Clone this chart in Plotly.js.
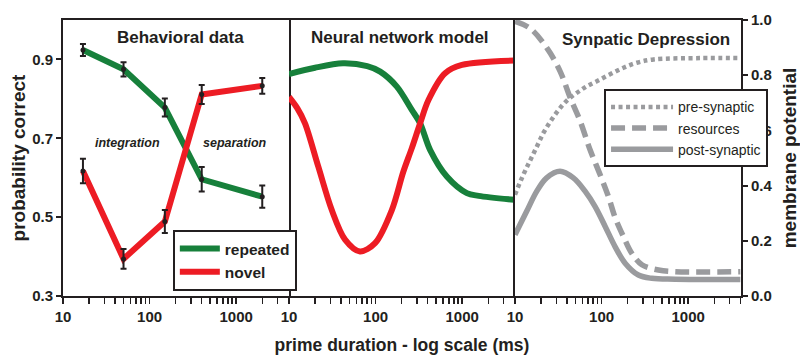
<!DOCTYPE html>
<html><head><meta charset="utf-8">
<script src="https://cdn.plot.ly/plotly-3.0.1.min.js"></script>
<style>html,body{margin:0;padding:0;background:#fff}#chart{width:800px;height:358px}</style>
</head><body><div id="chart"></div>
<script>
// ---------- Panel 1: behavioral data ----------
const behavX = [17, 50, 150, 400, 2000];
const behavRepeated = [0.924, 0.875, 0.778, 0.596, 0.552];
const behavRepeatedErr = [0.015, 0.018, 0.023, 0.031, 0.028];
const behavNovel = [0.617, 0.394, 0.489, 0.811, 0.833];
const behavNovelErr = [0.031, 0.025, 0.029, 0.024, 0.020];

// ---------- Panel 2: neural network model ----------
const nnRepX = [10, 20, 42, 80, 113, 176, 262, 327, 427, 665, 1132, 1549, 4000];
const nnRepY = [0.863, 0.879, 0.890, 0.883, 0.869, 0.831, 0.772, 0.738, 0.670, 0.603, 0.561, 0.554, 0.544];
const nnNovX = [10, 12.5, 15.3, 21.8, 31.2, 44.4, 66, 98.6, 154, 209, 262, 327, 408, 635, 993, 4000];
const nnNovY = [0.805, 0.776, 0.738, 0.628, 0.518, 0.443, 0.413, 0.434, 0.518, 0.615, 0.675, 0.738, 0.797, 0.865, 0.886, 0.897];

// ---------- Panel 3: synaptic depression ----------
const preX = [10, 12.5, 14.9, 17.8, 21.2, 25.4, 30.3, 36.2, 43.2, 54, 67.5, 88, 125, 179, 255, 398, 1377, 4000];
const preY = [0.367, 0.44, 0.49, 0.54, 0.59, 0.63, 0.665, 0.695, 0.718, 0.740, 0.760, 0.778, 0.803, 0.827, 0.845, 0.857, 0.862, 0.862];
const resX = [10, 14.9, 23.2, 33.1, 43.2, 56.4, 73.6, 96, 120, 143, 179, 223, 292, 454, 708, 4000];
const resY = [0.995, 0.970, 0.900, 0.815, 0.720, 0.635, 0.530, 0.440, 0.360, 0.285, 0.215, 0.155, 0.113, 0.094, 0.088, 0.088];
const postX = [10, 13.6, 17.8, 23.2, 33.1, 47.2, 64.4, 84.2, 110, 143, 187, 266, 380, 708, 4000];
const postY = [0.222, 0.306, 0.379, 0.428, 0.452, 0.428, 0.380, 0.324, 0.252, 0.179, 0.119, 0.076, 0.064, 0.061, 0.060];

// ---------- tick labels ----------
const xTickVals = [10, 20, 30, 40, 50, 60, 70, 80, 90, 100, 200, 300, 400, 500, 600, 700, 800, 900, 1000, 2000, 3000, 4000];
const xTickText = ['10', '', '', '', '', '', '', '', '', '100', '', '', '', '', '', '', '', '', '1000', '', '', ''];
const leftTickVals = [0.3, 0.5, 0.7, 0.9];
const rightTickVals = [0, 0.2, 0.4, 0.6, 0.8, 1.0];

const FONT = 'Liberation Sans, Arial, Helvetica, sans-serif';
const INK = '#231f20';
const GREEN = '#17803b';
const RED = '#ed1c24';
const GRAY = '#9a9b9e';

const traces = [
  {x: behavX, y: behavRepeated, xaxis: 'x', yaxis: 'y', mode: 'lines', name: 'repeated',
   line: {color: GREEN, width: 6}, legend: 'legend'},
  {x: behavX, y: behavNovel, xaxis: 'x', yaxis: 'y', mode: 'lines', name: 'novel',
   line: {color: RED, width: 6}, legend: 'legend'},
  {x: behavX, y: behavRepeated, xaxis: 'x', yaxis: 'y', mode: 'markers', showlegend: false,
   marker: {color: INK, size: 5},
   error_y: {type: 'data', array: behavRepeatedErr, visible: true, color: INK, thickness: 2, width: 3}},
  {x: behavX, y: behavNovel, xaxis: 'x', yaxis: 'y', mode: 'markers', showlegend: false,
   marker: {color: INK, size: 5},
   error_y: {type: 'data', array: behavNovelErr, visible: true, color: INK, thickness: 2, width: 3}},
  {x: nnRepX, y: nnRepY, xaxis: 'x2', yaxis: 'y', mode: 'lines', showlegend: false,
   line: {color: GREEN, width: 6, shape: 'spline', smoothing: 0.9}},
  {x: nnNovX, y: nnNovY, xaxis: 'x2', yaxis: 'y', mode: 'lines', showlegend: false,
   line: {color: RED, width: 6, shape: 'spline', smoothing: 0.9}},
  {x: preX, y: preY, xaxis: 'x3', yaxis: 'y3', mode: 'lines', name: 'pre-synaptic', legend: 'legend2',
   line: {color: GRAY, width: 4.5, dash: '4px,3.5px', shape: 'spline', smoothing: 1}},
  {x: resX, y: resY, xaxis: 'x3', yaxis: 'y3', mode: 'lines', name: 'resources', legend: 'legend2',
   line: {color: GRAY, width: 5.5, dash: '14px,7px', shape: 'spline', smoothing: 1}},
  {x: postX, y: postY, xaxis: 'x3', yaxis: 'y3', mode: 'lines', name: 'post-synaptic', legend: 'legend2',
   line: {color: GRAY, width: 5.5, shape: 'spline', smoothing: 1}}
];

function xAxis(domain, anchor, extra) {
  return Object.assign({
    type: 'log', range: [1, 3.61], domain: domain, anchor: anchor,
    tickmode: 'array', tickvals: xTickVals, ticktext: xTickText,
    ticks: 'outside', ticklen: 6, tickwidth: 1.5, tickcolor: INK,
    showline: true, linewidth: 2, linecolor: INK, mirror: true,
    showgrid: false, zeroline: false,
    tickfont: {family: FONT, size: 15, color: INK, weight: 'bold'}
  }, extra || {});
}

const layout = {
  width: 800, height: 358,
  margin: {l: 63, r: 59, t: 20, b: 62},
  paper_bgcolor: '#fff', plot_bgcolor: '#fff',
  font: {family: FONT, color: INK},
  xaxis: xAxis([0, 1/3], 'y'),
  xaxis2: xAxis([1/3, 2/3], 'y', {
    title: {text: 'prime duration - log scale (ms)', standoff: 15,
            font: {family: FONT, size: 17.5, color: INK, weight: 'bold'}}
  }),
  xaxis3: xAxis([2/3, 1], 'y3'),
  yaxis: {
    range: [0.3, 1.0], anchor: 'x', domain: [0, 1],
    tickmode: 'array', tickvals: leftTickVals, tickformat: '.1f',
    ticks: 'outside', ticklen: 5, tickwidth: 2, tickcolor: INK,
    showline: true, linewidth: 2, linecolor: INK, mirror: true,
    showgrid: false, zeroline: false,
    tickfont: {family: FONT, size: 15, color: INK, weight: 'bold'},
    title: {text: 'probability correct', standoff: 1,
            font: {family: FONT, size: 19, color: INK, weight: 'bold'}}
  },
  yaxis3: {
    range: [0, 1.0], anchor: 'x3', side: 'right', domain: [0, 1],
    tickmode: 'array', tickvals: rightTickVals, tickformat: '.1f',
    ticks: 'outside', ticklen: 5, tickwidth: 2, tickcolor: INK,
    showline: true, linewidth: 2, linecolor: INK, mirror: true,
    showgrid: false, zeroline: false,
    tickfont: {family: FONT, size: 15, color: INK, weight: 'bold'},
    title: {text: 'membrane potential', standoff: 22,
            font: {family: FONT, size: 19, color: INK, weight: 'bold'}}
  },
  legend: {
    x: 0.162, y: 0.239, xanchor: 'left', yanchor: 'top',
    bgcolor: '#fff', bordercolor: INK, borderwidth: 2,
    font: {family: FONT, size: 15.5, color: INK, weight: 'bold'},
    tracegroupgap: 0, itemwidth: 40
  },
  legend2: {
    x: 0.798, y: 0.749, xanchor: 'left', yanchor: 'top',
    bgcolor: '#fff', bordercolor: INK, borderwidth: 2,
    font: {family: FONT, size: 14, color: INK},
    tracegroupgap: 0, itemwidth: 62
  },
  annotations: [
    {text: 'Behavioral data', xref: 'x domain', yref: 'paper', x: 0.522, y: 0.935, yanchor: 'middle',
     showarrow: false, font: {family: FONT, size: 17, color: INK, weight: 'bold'}},
    {text: 'Neural network model', xref: 'x2 domain', yref: 'paper', x: 0.491, y: 0.935, yanchor: 'middle',
     showarrow: false, font: {family: FONT, size: 17, color: INK, weight: 'bold'}},
    {text: 'Synpatic Depression', xref: 'x3 domain', yref: 'paper', x: 0.58, y: 0.931, yanchor: 'middle',
     showarrow: false, font: {family: FONT, size: 17, color: INK, weight: 'bold'}},
    {text: '<i>integration</i>', xref: 'x', yref: 'y', x: 1.75, y: 0.688,
     showarrow: false, font: {family: FONT, size: 12.5, color: INK, weight: 'bold'}},
    {text: '<i>separation</i>', xref: 'x', yref: 'y', x: 2.986, y: 0.688,
     showarrow: false, font: {family: FONT, size: 12.5, color: INK, weight: 'bold'}}
  ],
  showlegend: true
};

Plotly.newPlot('chart', traces, layout, {displayModeBar: false, staticPlot: true});
</script></body></html>
